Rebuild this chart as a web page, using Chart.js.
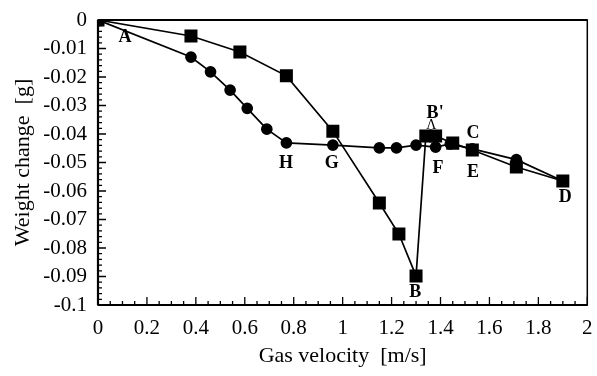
<!DOCTYPE html>
<html>
<head>
<meta charset="utf-8">
<script src="https://cdn.jsdelivr.net/npm/chart.js@4/dist/chart.umd.min.js"></script>
<style>
  html, body { margin: 0; padding: 0; background: #fff; }
  #wrap { width: 597px; height: 376px; }
</style>
</head>
<body>
<div id="wrap"><canvas id="grafica" width="597" height="376"></canvas></div>
<script>
// velocidades y cambios de peso
const velCuadros = [0, 0.38, 0.58, 0.77, 0.96, 1.15, 1.23, 1.30, 1.34, 1.38, 1.45, 1.53, 1.71, 1.90];
const pesoCuadros = [0, -0.0056, -0.0112, -0.0196, -0.039, -0.0642, -0.0751, -0.0898, -0.0407, -0.0407, -0.0432, -0.0456, -0.0516, -0.0565];

const velCirculos = [0, 0.38, 0.46, 0.54, 0.61, 0.69, 0.77, 0.96, 1.15, 1.22, 1.30, 1.38, 1.44, 1.53, 1.71, 1.90];
const pesoCirculos = [0, -0.013, -0.0182, -0.0246, -0.031, -0.0383, -0.0431, -0.0439, -0.0449, -0.0449, -0.0439, -0.0446, -0.0435, -0.0452, -0.049, -0.0565];

const ticksX = [0, 0.2, 0.4, 0.6, 0.8, 1, 1.2, 1.4, 1.6, 1.8, 2];
const ticksY = [0, -0.01, -0.02, -0.03, -0.04, -0.05, -0.06, -0.07, -0.08, -0.09, -0.1];

// letras de los puntos (en coordenadas de datos)
const letras = ["A", "H", "G", "B", "B'", "C", "E", "F", "D"];
const letrasX = [0.11, 0.768, 0.955, 1.297, 1.378, 1.533, 1.533, 1.39, 1.91];
const letrasY = [-0.006, -0.0502, -0.0502, -0.0954, -0.0326, -0.0396, -0.0533, -0.0519, -0.0621];

const fuente = "'Liberation Serif', 'Times New Roman', serif";

const puntos = (xs, ys) => xs.map((x, i) => ({ x: x, y: ys[i] }));

const marcoYTicks = {
    id: "marcoYTicks",
    afterDraw(chart) {
        const ctx = chart.ctx;
        const a = chart.chartArea;
        const sx = chart.scales.x;
        const sy = chart.scales.y;
        ctx.save();
        ctx.strokeStyle = "#000";
        ctx.lineWidth = 1.5;
        ctx.strokeRect(a.left, a.top, a.right - a.left, a.bottom - a.top);
        ctx.lineWidth = 2.2;
        ctx.beginPath();
        ctx.moveTo(a.left, a.bottom);
        ctx.lineTo(a.right, a.bottom);
        ctx.moveTo(a.left, a.top);
        ctx.lineTo(a.left, a.bottom);
        ctx.moveTo(a.left, a.top);
        ctx.lineTo(a.right, a.top);
        ctx.stroke();

        // marcas hacia dentro
        ctx.lineWidth = 1.3;
        ctx.beginPath();
        for (let i = 0; i <= 40; i++) {
            const px = sx.getPixelForValue(i * 0.05);
            const largo = i % 4 === 0 ? 8 : 4;
            ctx.moveTo(px, a.bottom);
            ctx.lineTo(px, a.bottom - largo);
        }
        for (let i = 0; i <= 50; i++) {
            const py = sy.getPixelForValue(-i * 0.002);
            const largo = i % 5 === 0 ? 8 : 4;
            ctx.moveTo(a.left, py);
            ctx.lineTo(a.left + largo, py);
        }
        ctx.stroke();

        // letras
        ctx.fillStyle = "#000";
        ctx.textAlign = "center";
        ctx.textBaseline = "middle";
        ctx.font = "bold 18px " + fuente;
        letras.forEach((t, i) => {
            ctx.fillText(t, sx.getPixelForValue(letrasX[i]), sy.getPixelForValue(letrasY[i]));
        });
        ctx.font = "14px " + fuente;
        ctx.fillText("Λ", sx.getPixelForValue(1.362), sy.getPixelForValue(-0.0368));
        ctx.restore();
    }
};

function crearGrafica() {
    const ctx = document.getElementById("grafica");

    new Chart(ctx, {
        type: "scatter",
        data: {
            datasets: [{
                label: "Cuadros",
                data: puntos(velCuadros, pesoCuadros),
                showLine: true,
                borderColor: "#000",
                backgroundColor: "#000",
                borderWidth: 1.7,
                pointStyle: "rect",
                pointRadius: 8,
                pointHoverRadius: 8,
                tension: 0
            }, {
                label: "Circulos",
                data: puntos(velCirculos, pesoCirculos),
                showLine: true,
                borderColor: "#000",
                backgroundColor: "#000",
                borderWidth: 1.7,
                pointStyle: "circle",
                pointRadius: 5,
                pointHoverRadius: 5,
                tension: 0
            }]
        },
        options: {
            responsive: false,
            animation: false,
            layout: { padding: { top: 20, right: 7, left: 0, bottom: 0 } },
            plugins: {
                legend: { display: false },
                tooltip: { enabled: false }
            },
            scales: {
                x: {
                    type: "linear",
                    min: 0,
                    max: 2,
                    afterFit: s => { s.height = 71; s.paddingLeft = 0; s.paddingRight = 0; },
                    afterBuildTicks: s => { s.ticks = ticksX.map(v => ({ value: v })); },
                    grid: { display: false, drawTicks: false },
                    border: { display: false },
                    ticks: {
                        color: "#000",
                        padding: 11,
                        maxRotation: 0,
                        font: { family: fuente, size: 21 },
                        callback: v => String(parseFloat(v.toFixed(1)))
                    },
                    title: {
                        display: true,
                        text: "Gas velocity  [m/s]",
                        color: "#000",
                        padding: { top: 0, bottom: 7 },
                        font: { family: fuente, size: 22 }
                    }
                },
                y: {
                    type: "linear",
                    min: -0.1,
                    max: 0,
                    afterFit: s => { s.width = 98; s.paddingTop = 0; s.paddingBottom = 0; },
                    afterBuildTicks: s => { s.ticks = ticksY.map(v => ({ value: v })); },
                    grid: { display: false, drawTicks: false },
                    border: { display: false },
                    ticks: {
                        color: "#000",
                        padding: 11,
                        font: { family: fuente, size: 21 },
                        callback: v => String(parseFloat(v.toFixed(2)))
                    },
                    title: {
                        display: true,
                        text: "Weight change  [g]",
                        color: "#000",
                        padding: { top: 10, bottom: 0 },
                        font: { family: fuente, size: 22 }
                    }
                }
            }
        },
        plugins: [marcoYTicks]
    });
}

document.addEventListener("DOMContentLoaded", () => {
    crearGrafica();
});
</script>
</body>
</html>
